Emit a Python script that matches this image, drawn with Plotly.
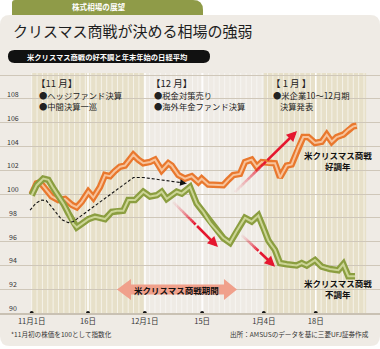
import plotly.graph_objects as go

W, H = 380, 349

# ---------------- data ----------------
# x = trading-day index counted from 11月1日, y = index (11月初 = 100)
good_x = [0, 0.93, 1.55, 2.48, 3.73, 4.96, 6.21, 7.46, 8.40, 9.33, 10.56, 11.49, 12.74, 13.68, 14.61,
          15.41, 16.46, 17.40, 18.96, 19.89, 20.82, 22.07, 23.0, 24.25, 25.49, 26.12, 27.35, 28.6, 29.85,
          31.08, 31.72, 32.95, 34.2, 35.75, 36.68, 37.61, 38.86, 39.79, 41.04, 41.98, 42.91, 44.14, 45.39,
          46.32, 47.57, 48.51, 49.74, 50.67, 51.6, 52.85, 54.1, 55.04, 55.97, 56.9, 58.13, 59.07, 60.0, 60.63]
good_y = [100.0, 100.9, 101.0, 100.5, 99.8, 99.5, 99.6, 99.1, 98.9, 99.35, 100.2, 99.7, 100.6, 101.6, 101.5,
          101.9, 102.3, 102.4, 103.3, 102.9, 102.6, 102.7, 102.9, 102.0, 102.6, 102.4, 101.6, 101.3, 101.5,
          101.0, 101.3, 100.8, 100.75, 100.75, 101.2, 101.6, 101.7, 102.7, 102.9, 102.3, 102.7, 102.6, 102.6,
          101.4, 102.4, 102.5, 103.9, 104.8, 104.8, 104.3, 104.4, 105.0, 104.4, 104.8, 105.0, 105.4, 105.7, 105.75]

bad_x = [0, 0.93, 2.16, 3.1, 4.03, 4.96, 5.9, 6.83, 7.76, 8.4, 9.33, 10.56, 11.81, 13.68, 14.93, 15.86,
         17.09, 18.02, 19.27, 20.82, 22.07, 23.32, 24.25, 25.19, 26.12, 27.05, 27.99, 29.53, 30.78, 32.01,
         33.26, 34.51, 35.75, 37.0, 38.25, 39.79, 41.04, 42.28, 43.21, 44.14, 45.39, 46.32, 47.57, 49.44,
         50.37, 51.31, 52.85, 54.1, 55.65, 57.2, 58.13, 59.07, 60.32]
bad_y = [99.9, 100.75, 101.3, 101.2, 100.5, 99.9, 99.2, 98.4, 97.5, 97.2, 97.5, 97.9, 98.1, 97.9, 98.5, 98.6,
         98.6, 99.5, 99.5, 100.2, 99.8, 99.9, 100.2, 99.6, 99.9, 100.2, 100.05, 100.6, 99.2, 98.5,
         97.6, 96.9, 96.3, 95.9, 96.9, 98.0, 97.7, 98.2, 97.2, 96.1, 95.3, 94.2, 94.1, 94.0,
         94.2, 94.0, 94.45, 93.9, 93.7, 93.6, 94.1, 93.1, 93.1]

avg_x = [-0.3, 0.8, 1.9, 2.7, 3.4, 4.7, 5.6, 6.8, 7.8, 19.0, 20.8, 28.9]
avg_y = [98.65, 99.25, 99.5, 99.45, 99.1, 98.4, 97.85, 97.6, 97.7, 101.4, 101.4, 100.9]

tick_days = [0, 10.5, 21.1, 31.8, 43.3, 53.0]
tick_text = ["11月1日", "16日", "12月1日", "15日", "1月4日", "18日"]
y_ticks = [90, 92, 94, 96, 98, 100, 102, 104, 106, 108]

# ---------------- geometry ----------------
X0_PX, PX_PER_DAY = 31.7, 5.36
Y90_PX, PX_PER_UNIT, TOP_PX = 313, 11.89, 73
x_range = [-X0_PX / PX_PER_DAY, (W - X0_PX) / PX_PER_DAY]
y_top = 90 + (Y90_PX - TOP_PX) / PX_PER_UNIT
y_dom = [1 - Y90_PX / H, 1 - TOP_PX / H]

def fx(px):
    return px / W

def fy(py):
    return 1 - py / H

def pt(px, py):
    return f"{fx(px):.5f},{fy(py):.5f}"

def rrect(x0, y0, x1, y1, r):
    return (f"M{pt(x0 + r, y0)} L{pt(x1 - r, y0)} Q{pt(x1, y0)} {pt(x1, y0 + r)} "
            f"L{pt(x1, y1 - r)} Q{pt(x1, y1)} {pt(x1 - r, y1)} L{pt(x0 + r, y1)} "
            f"Q{pt(x0, y1)} {pt(x0, y1 - r)} L{pt(x0, y0 + r)} Q{pt(x0, y0)} {pt(x0 + r, y0)} Z")

FONT = "Noto Sans CJK JP"
RED = "229,23,47"

shapes = []
# panel background
shapes.append(dict(type="path", xref="paper", yref="paper", layer="below",
                   path=rrect(0, 15, 380, 346, 10), fillcolor="#efebe5", line=dict(width=0)))
# green tab
tab = (f"M{pt(12, 15)} L{pt(12, 3)} Q{pt(12, 0)} {pt(15, 0)} L{pt(193, 0)} "
       f"Q{pt(203, 0)} {pt(203, 10)} L{pt(203, 15)} Z")
shapes.append(dict(type="path", xref="paper", yref="paper", layer="below",
                   path=tab, fillcolor="#8f9b48", line=dict(width=0)))
# black pill
shapes.append(dict(type="path", xref="paper", yref="paper", layer="below",
                   path=rrect(8, 50, 210, 63, 6.5), fillcolor="#111111", line=dict(width=0)))

# shaded month bands
for a, b in [(0, 21.14), (43.3, 62.4)]:
    shapes.append(dict(type="rect", xref="x", yref="y", layer="below", x0=a, x1=b, y0=90, y1=y_top,
                       fillcolor="#e7e0c9", line=dict(width=0)))
# daily stripes
for d in range(0, 63):
    in_band = d <= 21 or d >= 44
    shapes.append(dict(type="line", xref="x", yref="y", layer="below", x0=d, x1=d, y0=90, y1=y_top,
                       line=dict(color="rgba(255,255,255,0.6)" if in_band else "rgba(255,255,255,0.5)",
                                 width=1)))
for d in [10.5, 21.14, 31.8, 53.0]:
    shapes.append(dict(type="line", xref="x", yref="y", layer="below", x0=d, x1=d, y0=90, y1=y_top,
                       line=dict(color="rgba(255,255,255,0.95)", width=1.6)))

# red arrows (gradient tail + solid body with head)
red_arrows = [((37.9, 100.17), (49.5, 105.3)),
              ((26.4, 99.33), (34.75, 95.55)),
              ((39.2, 96.55), (45.4, 93.9))]
annotations = []
N = 12
FADE = 0.5
for (xs, ys), (xt, yt) in red_arrows:
    for i in range(N):
        t0 = FADE * i / N
        t1 = FADE * (i + 1) / N
        alpha = 0.06 + 0.94 * (i / (N - 1)) ** 1.3
        shapes.append(dict(type="line", xref="x", yref="y", layer="above",
                           x0=xs + (xt - xs) * t0, y0=ys + (yt - ys) * t0,
                           x1=xs + (xt - xs) * t1, y1=ys + (yt - ys) * t1,
                           line=dict(color=f"rgba({RED},{alpha:.2f})", width=2.6)))
    annotations.append(dict(x=xt, y=yt, ax=xs + (xt - xs) * FADE, ay=ys + (yt - ys) * FADE,
                            xref="x", yref="y", axref="x", ayref="y", text="", showarrow=True,
                            arrowhead=2, arrowsize=0.8, arrowwidth=2.6, arrowcolor=f"rgb({RED})",
                            standoff=0, startstandoff=0))

# period double arrow
dbl = (f"M{pt(117, 289.5)} L{pt(131, 279)} L{pt(131, 284.5)} L{pt(224, 284.5)} L{pt(224, 279)} "
       f"L{pt(237, 289.5)} L{pt(224, 300)} L{pt(224, 294.5)} L{pt(131, 294.5)} L{pt(131, 300)} Z")
shapes.append(dict(type="path", xref="paper", yref="paper", layer="above",
                   path=dbl, fillcolor="#f0a08b", line=dict(width=0)))

# dashed arrowhead
annotations.append(dict(x=avg_x[-1], y=avg_y[-1], ax=avg_x[-2] + (avg_x[-1] - avg_x[-2]) * 0.8,
                        ay=avg_y[-2] + (avg_y[-1] - avg_y[-2]) * 0.8,
                        xref="x", yref="y", axref="x", ayref="y", text="", showarrow=True,
                        arrowhead=2, arrowsize=1.3, arrowwidth=1, arrowcolor="#111", standoff=0))

def txt(text, px, py, size, color="#222", weight=400, xanchor="left", align="left"):
    annotations.append(dict(text=text, x=fx(px), y=fy(py), xref="paper", yref="paper",
                            xanchor=xanchor, yanchor="middle", showarrow=False, align=align,
                            font=dict(family=FONT, size=size, color=color, weight=weight)))

txt("株式相場の展望", 99, 7, 7.6, "white", 700, "center")
txt("クリスマス商戦が決める相場の強弱", 11, 30, 15, "#1e1e1e", 400)
txt("米クリスマス商戦の好不調と年末年始の日経平均", 107, 56.5, 7.3, "white", 700, "center")

txt("【11 月】", 34, 83, 9.5)
txt("●ヘッジファンド決算", 37, 94.5, 8.3)
txt("●中間決算一巡", 37, 106, 8.3)
txt("【12 月】", 149, 83, 9.5)
txt("●税金対策売り", 152, 94.5, 8.3)
txt("●海外年金ファンド決算", 152, 106, 8.3)
txt("【 1 月 】", 269, 83, 9.5)
txt("●米企業10～12月期", 271, 94.5, 8.3)
txt("決算発表", 278, 106, 8.3)

txt("米クリスマス商戦", 338, 154.5, 8.5, "#111", 700, "center")
txt("好調年", 338, 165.5, 8.5, "#111", 700, "center")
txt("米クリスマス商戦", 338, 283, 8.5, "#111", 700, "center")
txt("不調年", 338, 294, 8.5, "#111", 700, "center")
txt("米クリスマス商戦期間", 176, 289.5, 8.5, "#111", 700, "center")

txt("*11月初の株価を100として指数化", 9, 334, 6.6, "#333")
txt("出所：AMSUSのデータを基に三菱UFJ証券作成", 371, 334, 6.6, "#333", 400, "right")

for v in y_ticks:
    annotations.append(dict(text=str(v), x=fx(13), y=v, xref="paper", yref="y", xanchor="center",
                            yanchor="middle", yshift=5, showarrow=False,
                            font=dict(family=FONT, size=7, color="#333")))

fig = go.Figure()
fig.add_trace(go.Scatter(x=good_x, y=good_y, mode="lines", line=dict(color="#e9782e", width=6.5),
                         hoverinfo="skip"))
fig.add_trace(go.Scatter(x=good_x, y=good_y, mode="lines", line=dict(color="#f7c39b", width=2),
                         hoverinfo="skip"))
fig.add_trace(go.Scatter(x=bad_x, y=bad_y, mode="lines", line=dict(color="#8b9e40", width=6.5),
                         hoverinfo="skip"))
fig.add_trace(go.Scatter(x=bad_x, y=bad_y, mode="lines", line=dict(color="#ccd596", width=2),
                         hoverinfo="skip"))
fig.add_trace(go.Scatter(x=avg_x, y=avg_y, mode="lines", line=dict(color="#111", width=1.1, dash="3px,2px"),
                         hoverinfo="skip"))
fig.add_trace(go.Scatter(x=tick_days, y=[90] * len(tick_days), mode="markers", cliponaxis=False,
                         marker=dict(color="#111", size=4), hoverinfo="skip"))

fig.update_layout(
    width=W, height=H, margin=dict(l=0, r=0, t=0, b=0), autosize=False,
    paper_bgcolor="white", plot_bgcolor="rgba(0,0,0,0)", showlegend=False,
    shapes=shapes, annotations=annotations,
    xaxis=dict(domain=[0, 1], range=x_range, showgrid=False, zeroline=False,
               tickvals=tick_days, ticktext=tick_text, ticks="", showline=True,
               linecolor="#c9c1b3", linewidth=1.5, ticklabelstandoff=0,
               tickfont=dict(family=FONT, size=7.5, color="#333")),
    yaxis=dict(domain=y_dom, range=[90, y_top], showgrid=True, gridcolor="#cfc7b9", gridwidth=1.4,
               dtick=2, tick0=90, zeroline=False, showticklabels=False, ticks=""),
)

fig.write_html("out.html")
